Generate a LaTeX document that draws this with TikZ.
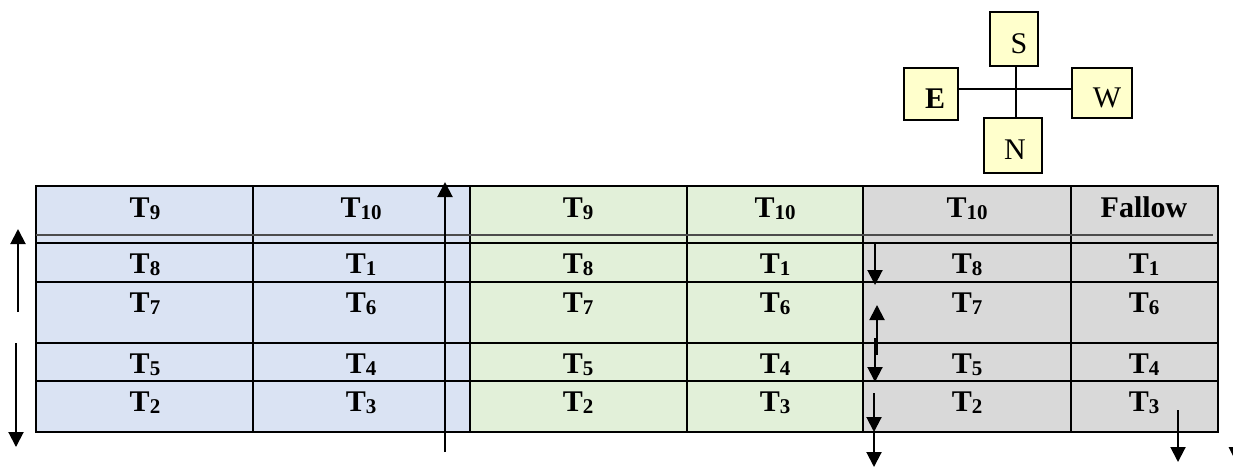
\documentclass[tikz,border=0pt]{standalone}
\usepackage{fontspec}
\setmainfont{Liberation Serif}
\usetikzlibrary{arrows.meta}
\definecolor{cblue}{HTML}{DAE3F3}
\definecolor{cgreen}{HTML}{E2F0D9}
\definecolor{cgrey}{HTML}{D9D9D9}
\definecolor{cyel}{HTML}{FFFFCC}
\newcommand{\Tn}[1]{T\raisebox{-2.5pt}{\fontsize{21}{21}\selectfont #1}}
\begin{document}
\begin{tikzpicture}[x=1pt,y=-1pt,
  gridline/.style={line width=2pt},
  thinline/.style={line width=1.5pt, draw=black!70},
  lbl/.style={font=\fontsize{30}{30}\selectfont\bfseries, anchor=base, inner sep=0pt},
  arr/.style={line width=2pt, -{Triangle[width=15pt,length=15pt]}},
  dirbox/.style={draw, line width=1.2pt, fill=cyel, font=\fontsize{30}{30}\selectfont, inner sep=0pt, text height=28pt, text depth=0pt},
  cline/.style={line width=1.2pt}]
\useasboundingbox (0,0) rectangle (1233,467);
% fills
\fill[cblue] (36,186) rectangle (470,432);
\fill[cgreen] (470,186) rectangle (863,432);
\fill[cgrey] (863,186) rectangle (1218,432);
% grid
\foreach \x in {36,253,470,687,863,1071,1218}
  \draw[gridline] (\x,186) -- (\x,432);
\foreach \y in {186,243,282,343,381,432}
  \draw[gridline] (35,\y) -- (1219,\y);
\draw[thinline] (36,235) -- (1213,235);
% labels
\foreach \lab [count=\i] in {\Tn{9},\Tn{10},\Tn{9},\Tn{10},\Tn{10},Fallow}
  \node[lbl] (a\i) at ({\ifcase\i\or145\or361\or578\or775\or967\or1144\fi},217) {\lab};
\foreach \lab [count=\i] in {\Tn{8},\Tn{1},\Tn{8},\Tn{1},\Tn{8},\Tn{1}}
  \node[lbl] (b\i) at ({\ifcase\i\or145\or361\or578\or775\or967\or1144\fi},273) {\lab};
\foreach \lab [count=\i] in {\Tn{7},\Tn{6},\Tn{7},\Tn{6},\Tn{7},\Tn{6}}
  \node[lbl] (c\i) at ({\ifcase\i\or145\or361\or578\or775\or967\or1144\fi},312) {\lab};
\foreach \lab [count=\i] in {\Tn{5},\Tn{4},\Tn{5},\Tn{4},\Tn{5},\Tn{4}}
  \node[lbl] (d\i) at ({\ifcase\i\or145\or361\or578\or775\or967\or1144\fi},373) {\lab};
\foreach \lab [count=\i] in {\Tn{2},\Tn{3},\Tn{2},\Tn{3},\Tn{2},\Tn{3}}
  \node[lbl] (e\i) at ({\ifcase\i\or145\or361\or578\or775\or967\or1144\fi},411) {\lab};
% arrows
\coordinate (l1s) at (18,312); \coordinate (l1e) at (18,229);
\coordinate (l2s) at (16,343); \coordinate (l2e) at (16,447);
\coordinate (m1s) at (445,452); \coordinate (m1e) at (445,182);
\coordinate (g1s) at (875,243); \coordinate (g1e) at (875,285);
\coordinate (g2s) at (877,355); \coordinate (g2e) at (877,305);
\coordinate (g3s) at (875,338); \coordinate (g3e) at (875,382);
\coordinate (g4s) at (874,393); \coordinate (g4e) at (874,432);
\coordinate (g5s) at (874,433); \coordinate (g5e) at (874,467);
\coordinate (r1s) at (1178,410); \coordinate (r1e) at (1178,462);
\draw[arr] (l1s) -- (l1e);
\draw[arr] (l2s) -- (l2e);
\draw[arr] (m1s) -- (m1e);
\draw[arr] (g1s) -- (g1e);
\draw[arr] (g2s) -- (g2e);
\draw[arr] (g3s) -- (g3e);
\draw[arr] (g4s) -- (g4e);
\draw[arr] (g5s) -- (g5e);
\draw[arr] (r1s) -- (r1e);
\begin{scope}
\clip (0,0) rectangle (1233,467);
\fill (1228.5,447) -- (1243.5,447) -- (1236,462) -- cycle;
\end{scope}
% compass
\node[dirbox, minimum width=48pt, minimum height=54pt] (S) at (1014,39) {\hspace*{10pt}S};
\node[dirbox, minimum width=54pt, minimum height=52pt, font=\fontsize{30}{30}\selectfont\bfseries] (E) at (931,94) {\hspace*{8pt}E};
\node[dirbox, minimum width=60pt, minimum height=50pt] (W) at (1102,93) {\hspace*{10pt}W};
\node[dirbox, minimum width=58pt, minimum height=55pt] (N) at (1013,145.5) {\hspace*{4pt}N};
\coordinate (c) at (1016,89);
\draw[cline] (E.east |- c) -- (W.west |- c);
\draw[cline] (S.south -| c) -- (N.north -| c);
\end{tikzpicture}
\end{document}
